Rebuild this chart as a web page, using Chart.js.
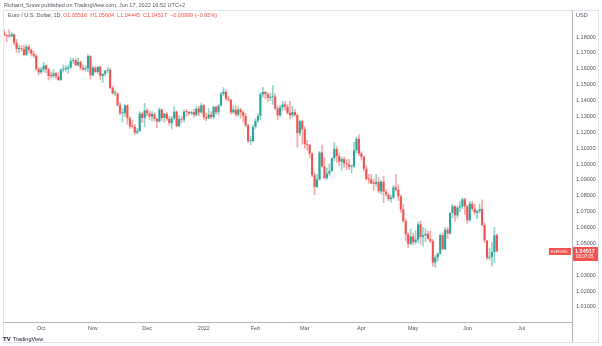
<!DOCTYPE html>
<html>
<head>
<meta charset="utf-8">
<script src="https://cdn.jsdelivr.net/npm/chart.js@4"></script>
<style>
  html, body { margin: 0; padding: 0; background: #fff; }
  #wrap { width: 602px; height: 346px; position: relative; }
</style>
</head>
<body>
<div id="wrap"><canvas id="chart"></canvas></div>
<script>
// EUR/USD daily, 10 Sep 2021 - 17 Jun 2022 (weekdays only)
const firstDay = '2021-09-10';
const totalSlots = 231; // data bars plus empty space to the right

const opens = [
  1.1827,1.1813,1.1806,1.1805,1.1818,1.1765,1.1725,1.1727,1.1724,1.1688,
  1.1739,1.1720,1.1695,1.1683,1.1598,1.1578,1.1596,1.1621,1.1597,1.1555,
  1.1554,1.1572,1.1552,1.1530,1.1594,1.1598,1.1602,1.1609,1.1649,1.1655,
  1.1623,1.1644,1.1608,1.1597,1.1604,1.1680,1.1559,1.1607,1.1580,1.1612,
  1.1555,1.1568,1.1588,1.1592,1.1480,1.1445,1.1445,1.1370,1.1320,1.1320,
  1.1370,1.1289,1.1237,1.1235,1.1198,1.1208,1.1318,1.1290,1.1338,1.1320,
  1.1300,1.1315,1.1285,1.1268,1.1343,1.1290,1.1317,1.1285,1.1258,1.1289,
  1.1330,1.1239,1.1284,1.1280,1.1330,1.1328,1.1320,1.1327,1.1310,1.1350,
  1.1325,1.1370,1.1296,1.1287,1.1312,1.1296,1.1360,1.1326,1.1368,1.1442,
  1.1456,1.1412,1.1405,1.1326,1.1343,1.1311,1.1344,1.1326,1.1303,1.1243,
  1.1145,1.1145,1.1235,1.1272,1.1303,1.1440,1.1454,1.1440,1.1417,1.1424,
  1.1424,1.1350,1.1307,1.1357,1.1375,1.1362,1.1322,1.1308,1.1327,1.1309,
  1.1195,1.1270,1.1219,1.1125,1.1121,1.1066,1.0930,1.0856,1.0903,1.1073,
  1.0985,1.0911,1.0940,1.0956,1.1037,1.1095,1.1050,1.1015,1.1031,1.1004,
  1.0998,1.0983,1.0986,1.1087,1.1159,1.1067,1.1046,1.0970,1.0905,1.0903,
  1.0878,1.0876,1.0888,1.0829,1.0889,1.0826,1.0808,1.0780,1.0788,1.0853,
  1.0838,1.0797,1.0714,1.0640,1.0557,1.0497,1.0544,1.0508,1.0524,1.0620,
  1.0541,1.0551,1.0561,1.0529,1.0514,1.0380,1.0411,1.0436,1.0553,1.0464,
  1.0586,1.0563,1.0692,1.0734,1.0677,1.0726,1.0733,1.0778,1.0734,1.0646,
  1.0750,1.0718,1.0694,1.0705,1.0716,1.0616,1.0518,1.0409,1.0416,1.0446,
  1.05516
];
const highs = [
  1.1847,1.1815,1.1845,1.1830,1.1820,1.1785,1.1750,1.1746,1.1750,1.1750,
  1.1749,1.1725,1.1710,1.1690,1.1610,1.1610,1.1640,1.1624,1.1604,1.1580,
  1.1595,1.1580,1.1575,1.1600,1.1624,1.1620,1.1625,1.1669,1.1667,1.1665,
  1.1666,1.1650,1.1625,1.1620,1.1692,1.1684,1.1616,1.1614,1.1616,1.1617,
  1.1570,1.1590,1.1609,1.1605,1.1490,1.1465,1.1450,1.1387,1.1350,1.1374,
  1.1375,1.1300,1.1275,1.1250,1.1225,1.1330,1.1325,1.1383,1.1350,1.1336,
  1.1333,1.1325,1.1290,1.1355,1.1350,1.1320,1.1325,1.1300,1.1300,1.1360,
  1.1335,1.1305,1.1300,1.1340,1.1345,1.1330,1.1333,1.1345,1.1362,1.1365,
  1.1385,1.1376,1.1320,1.1347,1.1330,1.1365,1.1365,1.1375,1.1450,1.1482,
  1.1470,1.1425,1.1410,1.1366,1.1369,1.1362,1.1350,1.1335,1.1320,1.1250,
  1.1175,1.1245,1.1285,1.1320,1.1450,1.1483,1.1460,1.1450,1.1447,1.1495,
  1.1445,1.1365,1.1370,1.1395,1.1395,1.1375,1.1395,1.1362,1.1345,1.1315,
  1.1275,1.1275,1.1235,1.1150,1.1125,1.1070,1.0946,1.0935,1.1080,1.1120,
  1.1040,1.0975,1.1000,1.1040,1.1135,1.1110,1.1070,1.1043,1.1045,1.1027,
  1.1030,1.0995,1.1137,1.1170,1.1185,1.1077,1.1050,1.0990,1.0935,1.0935,
  1.0905,1.0934,1.0915,1.0895,1.0925,1.0840,1.0815,1.0805,1.0865,1.0936,
  1.0870,1.0805,1.0745,1.0655,1.0566,1.0590,1.0565,1.0580,1.0635,1.0642,
  1.0600,1.0595,1.0580,1.0577,1.0525,1.0425,1.0443,1.0560,1.0565,1.0600,
  1.0600,1.0695,1.0748,1.0737,1.0735,1.0765,1.0787,1.0785,1.0740,1.0765,
  1.0765,1.0750,1.0710,1.0750,1.0775,1.0630,1.0520,1.0470,1.0505,1.0601,
  1.05604
];
const lows = [
  1.1806,1.1770,1.1797,1.1800,1.1751,1.1703,1.1700,1.1710,1.1684,1.1685,
  1.1701,1.1680,1.1670,1.1590,1.1563,1.1570,1.1581,1.1575,1.1529,1.1542,
  1.1545,1.1540,1.1524,1.1525,1.1580,1.1585,1.1572,1.1600,1.1634,1.1620,
  1.1618,1.1593,1.1590,1.1585,1.1580,1.1535,1.1555,1.1575,1.1570,1.1530,
  1.1513,1.1555,1.1575,1.1475,1.1440,1.1433,1.1366,1.1310,1.1264,1.1300,
  1.1250,1.1225,1.1225,1.1186,1.1190,1.1205,1.1260,1.1235,1.1305,1.1280,
  1.1270,1.1270,1.1227,1.1265,1.1275,1.1262,1.1275,1.1245,1.1221,1.1280,
  1.1235,1.1235,1.1260,1.1265,1.1300,1.1310,1.1310,1.1295,1.1300,1.1305,
  1.1320,1.1281,1.1273,1.1285,1.1285,1.1285,1.1315,1.1310,1.1365,1.1430,
  1.1400,1.1395,1.1315,1.1320,1.1302,1.1300,1.1290,1.1265,1.1235,1.1135,
  1.1121,1.1140,1.1225,1.1262,1.1280,1.1421,1.1410,1.1394,1.1400,1.1375,
  1.1340,1.1280,1.1300,1.1335,1.1340,1.1315,1.1285,1.1292,1.1302,1.1106,
  1.1180,1.1125,1.1100,1.1086,1.1040,1.0920,1.0806,1.0850,1.0900,1.0980,
  1.0905,1.0905,1.0925,1.0955,1.1020,1.1010,1.0990,1.0960,1.0980,1.0965,
  1.0965,1.0945,1.0975,1.1070,1.1055,1.1025,1.0955,1.0900,1.0880,1.0875,
  1.0835,1.0860,1.0820,1.0810,1.0757,1.0800,1.0770,1.0760,1.0780,1.0830,
  1.0770,1.0695,1.0635,1.0515,1.0471,1.0490,1.0490,1.0495,1.0505,1.0493,
  1.0483,1.0510,1.0525,1.0505,1.0355,1.0349,1.0390,1.0430,1.0460,1.0460,
  1.0530,1.0555,1.0660,1.0640,1.0660,1.0700,1.0717,1.0680,1.0627,1.0640,
  1.0705,1.0680,1.0655,1.0690,1.0610,1.0505,1.0398,1.0395,1.0359,1.0380,
  1.04445
];
const closes = [
  1.1813,1.1806,1.1805,1.1818,1.1765,1.1725,1.1727,1.1724,1.1688,1.1739,
  1.1720,1.1695,1.1683,1.1598,1.1578,1.1596,1.1621,1.1597,1.1555,1.1554,
  1.1572,1.1552,1.1530,1.1594,1.1598,1.1602,1.1609,1.1649,1.1655,1.1623,
  1.1644,1.1608,1.1597,1.1604,1.1680,1.1559,1.1607,1.1580,1.1612,1.1555,
  1.1568,1.1588,1.1592,1.1480,1.1445,1.1445,1.1370,1.1320,1.1320,1.1370,
  1.1289,1.1237,1.1235,1.1198,1.1208,1.1318,1.1290,1.1338,1.1320,1.1300,
  1.1315,1.1285,1.1268,1.1343,1.1290,1.1317,1.1285,1.1258,1.1289,1.1330,
  1.1239,1.1284,1.1280,1.1330,1.1328,1.1320,1.1327,1.1310,1.1350,1.1325,
  1.1370,1.1296,1.1287,1.1312,1.1296,1.1360,1.1326,1.1368,1.1442,1.1456,
  1.1412,1.1405,1.1326,1.1343,1.1311,1.1344,1.1326,1.1303,1.1243,1.1145,
  1.1145,1.1235,1.1272,1.1303,1.1440,1.1454,1.1440,1.1417,1.1424,1.1424,
  1.1350,1.1307,1.1357,1.1375,1.1362,1.1322,1.1308,1.1327,1.1309,1.1195,
  1.1270,1.1219,1.1125,1.1121,1.1066,1.0930,1.0856,1.0903,1.1073,1.0985,
  1.0911,1.0940,1.0956,1.1037,1.1095,1.1050,1.1015,1.1031,1.1004,1.0998,
  1.0983,1.0986,1.1087,1.1159,1.1067,1.1046,1.0970,1.0905,1.0903,1.0878,
  1.0876,1.0888,1.0829,1.0889,1.0826,1.0808,1.0780,1.0788,1.0853,1.0838,
  1.0797,1.0714,1.0640,1.0557,1.0497,1.0544,1.0508,1.0524,1.0620,1.0541,
  1.0551,1.0561,1.0529,1.0514,1.0380,1.0411,1.0436,1.0553,1.0464,1.0586,
  1.0563,1.0692,1.0734,1.0677,1.0726,1.0733,1.0778,1.0734,1.0646,1.0750,
  1.0718,1.0694,1.0705,1.0716,1.0616,1.0518,1.0409,1.0416,1.0446,1.0551,
  1.04517
];

const priceTicks = [1.01, 1.02, 1.03, 1.05, 1.06, 1.07, 1.08, 1.09, 1.10,
                    1.11, 1.12, 1.13, 1.14, 1.15, 1.16, 1.17, 1.18];
const monthLabels = ['2022', 'Feb', 'Mar', 'Apr', 'May', 'Jun', 'Jul', 'Aug', 'Sep', 'Oct', 'Nov', 'Dec'];
const priceMin = 1.0005;
const priceMax = 1.1895;

const UP = '#26a69a';
const DOWN = '#ef5350';
const UP_WICK = 'rgba(38,166,154,0.5)';
const DOWN_WICK = 'rgba(239,83,80,0.5)';
const FONT = '"Liberation Sans", Arial, sans-serif';

// weekday calendar for the x axis
const days = [];
const d = new Date(firstDay + 'T12:00:00Z');
while (days.length < totalSlots) {
  const wd = d.getUTCDay();
  if (wd !== 0 && wd !== 6) days.push(d.toISOString().slice(0, 10));
  d.setUTCDate(d.getUTCDate() + 1);
}
const monthOf = i => +days[i].slice(5, 7);

const isUp = i => closes[i] >= opens[i];

const decor = {
  id: 'decor',
  afterDraw(chart) {
    const c = chart.ctx;
    const area = chart.chartArea;
    const y = chart.scales.y;
    c.save();

    // outer frame and pane separators
    c.strokeStyle = '#e0e3eb';
    c.lineWidth = 1;
    c.strokeRect(3.5, 10.5, 595, 332);
    c.strokeStyle = '#b2b5be';
    c.beginPath();
    c.moveTo(3, Math.round(area.bottom) + 0.5);
    c.lineTo(area.right, Math.round(area.bottom) + 0.5);
    c.moveTo(Math.round(area.right) + 0.5, 10);
    c.lineTo(Math.round(area.right) + 0.5, 342);
    c.stroke();

    c.textBaseline = 'middle';
    c.textAlign = 'left';

    // publish line
    c.fillStyle = '#50535e';
    c.font = '5.5px ' + FONT;
    c.fillText('Richard_Snow published on TradingView.com, Jun 17, 2022 16:52 UTC+2', 4, 5);

    // legend
    c.fillText('Euro / U.S. Dollar, 1D,', 8, 15.5);
    c.fillStyle = DOWN;
    c.fillText('O1.05516  H1.05604  L1.04445  C1.04517  \u22120.00999 (\u22120.95%)', 63, 15.5);

    // currency label
    c.fillStyle = '#50535e';
    c.fillText('USD', 576, 15.5);

    // last price labels
    const last = closes.length - 1;
    const py = Math.round(y.getPixelForValue(closes[last]));
    c.fillStyle = DOWN;
    c.fillRect(549, py - 3, 22, 7);
    c.fillRect(573, py - 4, 25, 14);
    c.fillStyle = '#fff';
    c.font = '4px ' + FONT;
    c.fillText('EURUSD', 551, py + 0.5);
    c.font = 'bold 5.5px ' + FONT;
    c.fillText(closes[last].toFixed(5), 575, py);
    c.font = '4.5px ' + FONT;
    c.fillText('06:07:05', 576, py + 6);

    // footer logo
    c.fillStyle = '#131722';
    c.font = 'bold 6px ' + FONT;
    c.fillText('TV', 3, 339);
    c.font = '5.5px ' + FONT;
    c.fillText('TradingView', 13, 339);

    c.restore();
  }
};

new Chart(document.getElementById('chart'), {
  type: 'bar',
  data: {
    labels: days,
    datasets: [
      {
        label: 'body',
        data: opens.map((o, i) => [o, closes[i]]),
        backgroundColor: ctx => isUp(ctx.dataIndex) ? UP : DOWN,
        grouped: false,
        categoryPercentage: 1,
        barPercentage: 0.85,
        minBarLength: 1,
        order: 1
      },
      {
        label: 'wick',
        data: lows.map((l, i) => [l, highs[i]]),
        backgroundColor: ctx => isUp(ctx.dataIndex) ? UP_WICK : DOWN_WICK,
        grouped: false,
        barThickness: 1,
        order: 2
      }
    ]
  },
  options: {
    responsive: true,
    maintainAspectRatio: false,
    animation: false,
    layout: { padding: { top: 22, left: 3, right: 0, bottom: 0 } },
    plugins: { legend: { display: false }, tooltip: { enabled: false } },
    scales: {
      x: {
        type: 'category',
        offset: true,
        grid: { display: false, drawTicks: false },
        border: { display: false },
        afterBuildTicks: scale => {
          scale.ticks = scale.ticks.filter(t => t.value > 0 && monthOf(t.value) !== monthOf(t.value - 1));
        },
        afterFit: scale => { scale.height = 24; },
        ticks: {
          autoSkip: false,
          maxRotation: 0,
          padding: 3,
          color: '#50535e',
          font: { family: FONT, size: 5.5 },
          callback: value => monthLabels[monthOf(value) - 1]
        }
      },
      y: {
        position: 'right',
        min: priceMin,
        max: priceMax,
        grid: { display: false, drawTicks: false },
        border: { display: false },
        afterBuildTicks: scale => {
          scale.ticks = priceTicks.map(v => ({ value: v }));
        },
        afterFit: scale => { scale.width = 30; },
        ticks: {
          padding: 4,
          color: '#50535e',
          font: { family: FONT, size: 5.5 },
          callback: v => v.toFixed(5)
        }
      }
    }
  },
  plugins: [decor]
});
</script>
</body>
</html>
